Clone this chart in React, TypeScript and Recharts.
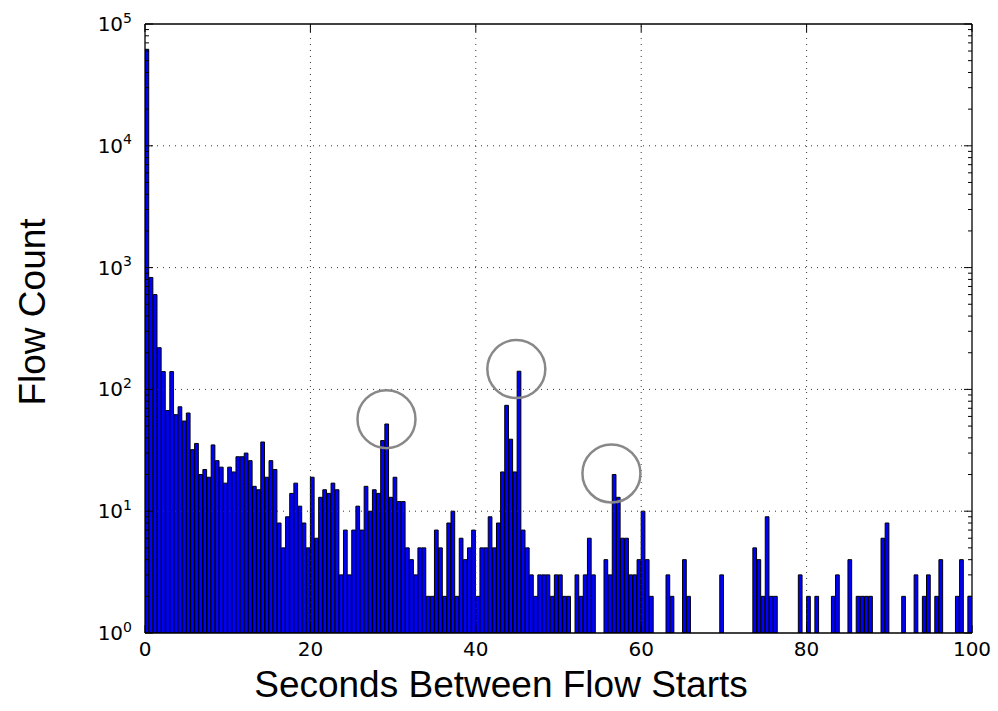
import React from 'react';
import { BarChart, Bar, XAxis, YAxis, ReferenceLine, ReferenceDot } from 'recharts';

// ─── Data ─────────────────────────────────────────────────────────────────────

// histogram bins are half a second wide; null = empty bin (nothing on a log axis)
const BIN_WIDTH = 0.5;

const counts0to20 = [
  62000, 830, 600, 220, 140, 67, 140, 62, 72, 55,
  64, 32, 36, 20, 22, 19, 35, 26, 23, 17,
  23, 21, 28, 28, 30, 26, 16, 15, 37, 19,
  26, 22, 8, 5, 9, 14, 17, 11, 8, 5,
];

const counts20to40 = [
  19, 6, 13, 15, 14, 17, 15, 3, 7, 3,
  7, 11, 7, 16, 10, 15, 14, 38, 52, 13,
  19, 12, 12, 5, 4, 3, 5, 5, 2, 2,
  7, 5, 2, 8, 10, 2, 6, 4, 5, 7,
];

const counts40to60 = [
  2, 5, 5, 9, 5, 8, 21, 74, 39, 21,
  141, 7, 5, 3, 2, 3, 3, 3, 2, 3,
  3, 2, 2, null, 3, 2, 3, 6, 3, null,
  null, 4, 3, 20, 13, 6, 6, 3, 3, 4,
];

const counts60to80 = [
  10, 4, 2, null, null, null, 3, 2, null, null,
  4, 2, null, null, null, null, null, null, null, 3,
  null, null, null, null, null, null, null, 5, 4, 2,
  9, 2, 2, null, null, null, null, null, 3, null,
];

const counts80to100 = [
  2, null, 2, null, null, null, 2, 3, null, null,
  4, null, 2, 2, 2, 2, null, null, 6, 8,
  null, null, null, 2, null, null, 3, null, 2, 3,
  null, 2, 4, null, null, null, 2, 4, null, 2,
];

const xTicks = [0, 20, 40, 60, 80, 100];
const xGridLines = [20, 40, 60, 80];
const yMajorTicks = [1, 10, 100, 1000, 10000, 100000];
const yGridLines = [10, 100, 1000, 10000];
const yMinorTicks = [1, 10, 100, 1000, 10000].flatMap((d) =>
  [2, 3, 4, 5, 6, 7, 8, 9].map((k) => k * d),
);

// grey rings drawn around the three periodic peaks
const peakRings = [
  { x: 29.2, y: 57 },
  { x: 44.9, y: 147 },
  { x: 56.4, y: 20.4 },
];

const allCounts = [...counts0to20, ...counts20to40, ...counts40to60, ...counts60to80, ...counts80to100];
const data = allCounts.map((count, i) => ({ x: i * BIN_WIDTH + BIN_WIDTH / 2, count }));

// ─── Layout ───────────────────────────────────────────────────────────────────

const W = 998;
const H = 711;
// axes are 1px thick, so the plot box is x 145..972, y 24..633
const MARGIN = { top: 23, right: 25, bottom: 77, left: 144 };
const TICK_FONT = "'DejaVu Sans', sans-serif";
const TITLE_FONT = "'Liberation Sans', Arial, sans-serif";
const MAJOR_LEN = 8;
const MINOR_LEN = 4;

const isMajorY = (v: number) => yMajorTicks.includes(v);

// ─── Ticks (matplotlib-style: pointing inwards) ───────────────────────────────

function LeftTick({ x, y, payload }: any) {
  const v = payload.value as number;
  const major = isMajorY(v);
  return (
    <g>
      <line x1={x} x2={x + (major ? MAJOR_LEN : MINOR_LEN)} y1={y} y2={y} stroke="#000" strokeWidth={1} />
      {major && (
        <text x={x - 13} y={y + 7} textAnchor="end" fontSize={20} fontFamily={TICK_FONT} fill="#000">
          <tspan>10</tspan>
          <tspan dy={-8.5} fontSize={14}>{Math.round(Math.log10(v))}</tspan>
        </text>
      )}
    </g>
  );
}

function RightTick({ x, y, payload }: any) {
  const major = isMajorY(payload.value);
  return <line x1={x} x2={x - (major ? MAJOR_LEN : MINOR_LEN)} y1={y} y2={y} stroke="#000" strokeWidth={1} />;
}

function BottomTick({ x, y, payload }: any) {
  return (
    <g>
      <line x1={x} x2={x} y1={y} y2={y - MAJOR_LEN} stroke="#000" strokeWidth={1} />
      <text x={x} y={y + 23} textAnchor="middle" fontSize={20} fontFamily={TICK_FONT} fill="#000">
        {payload.value}
      </text>
    </g>
  );
}

function TopTick({ x, y }: any) {
  return <line x1={x} x2={x} y1={y} y2={y + MAJOR_LEN} stroke="#000" strokeWidth={1} />;
}

// ─── Component ────────────────────────────────────────────────────────────────

export default function App() {
  const spine = { stroke: '#000', strokeWidth: 1.3 };
  const grid = { stroke: '#333', strokeWidth: 1, strokeDasharray: '1 5' };

  return (
    <div style={{ position: 'absolute', left: 0, top: 0, width: W, height: H, background: '#fff' }}>
      <BarChart width={W} height={H} data={data} margin={MARGIN} barCategoryGap={0} barGap={0}>
        <XAxis
          dataKey="x"
          type="number"
          domain={[0, 100]}
          allowDataOverflow
          ticks={xTicks}
          interval={0}
          height={1}
          tickSize={0}
          tickMargin={0}
          tickLine={false}
          axisLine={spine}
          tick={(p: any) => <BottomTick {...p} />}
        />
        <XAxis
          xAxisId="t"
          orientation="top"
          dataKey="x"
          type="number"
          domain={[0, 100]}
          allowDataOverflow
          ticks={xTicks}
          interval={0}
          height={1}
          tickSize={0}
          tickMargin={0}
          tickLine={false}
          axisLine={spine}
          tick={(p: any) => <TopTick {...p} />}
        />
        <YAxis
          type="number"
          scale="log"
          domain={[1, 100000]}
          allowDataOverflow
          ticks={[...yMajorTicks, ...yMinorTicks]}
          interval={0}
          width={1}
          tickSize={0}
          tickMargin={0}
          tickLine={false}
          axisLine={spine}
          tick={(p: any) => <LeftTick {...p} />}
        />
        <YAxis
          yAxisId="r"
          orientation="right"
          type="number"
          scale="log"
          domain={[1, 100000]}
          allowDataOverflow
          ticks={[...yMajorTicks, ...yMinorTicks]}
          interval={0}
          width={1}
          tickSize={0}
          tickMargin={0}
          tickLine={false}
          axisLine={spine}
          tick={(p: any) => <RightTick {...p} />}
        />

        <Bar
          dataKey="count"
          barSize={4.135}
          fill="#0000ff"
          stroke="#000"
          strokeWidth={1}
          isAnimationActive={false}
        />

        {yGridLines.map((v) => (
          <ReferenceLine key={`y${v}`} y={v} {...grid} />
        ))}
        {xGridLines.map((v) => (
          <ReferenceLine key={`x${v}`} x={v} {...grid} />
        ))}
        {peakRings.map((c, i) => (
          <ReferenceDot
            key={i}
            x={c.x}
            y={c.y}
            r={29}
            fill="none"
            stroke="#888"
            strokeWidth={2.5}
            ifOverflow="visible"
          />
        ))}
      </BarChart>

      {/* Axis titles */}
      <svg width={W} height={H} style={{ position: 'absolute', left: 0, top: 0, pointerEvents: 'none' }}>
        <text x={501} y={697} textAnchor="middle" fontSize={37} fontFamily={TITLE_FONT} fill="#000">
          Seconds Between Flow Starts
        </text>
        <text
          x={0}
          y={0}
          transform="translate(45, 312) rotate(-90)"
          textAnchor="middle"
          fontSize={37}
          fontFamily={TITLE_FONT}
          fill="#000"
        >
          Flow Count
        </text>
      </svg>
    </div>
  );
}
